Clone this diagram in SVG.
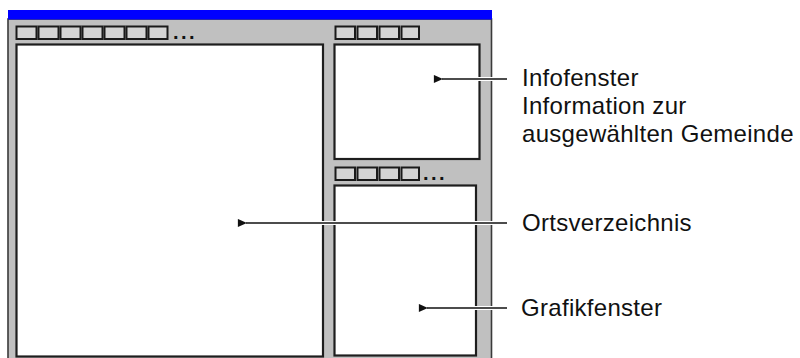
<svg xmlns="http://www.w3.org/2000/svg" width="800" height="358" viewBox="0 0 800 358">
<defs>
<style>
.pane{fill:#ffffff;stroke:#1e1e1e;stroke-width:2.2}
.tab{fill:#d4d4d4;stroke:#1a1a1a;stroke-width:2}
.lbl{font-family:"Liberation Sans",Arial,sans-serif;font-size:24px;fill:#111;letter-spacing:0.3px}
.dots{font-family:"Liberation Sans",Arial,sans-serif;font-size:20px;font-weight:bold;fill:#111;letter-spacing:2.5px}
.halo{stroke:#ffffff;stroke-width:4;fill:none}
.conn{stroke:#111;stroke-width:1.6;fill:none}
</style>
<marker id="ah" viewBox="0 0 10 10" refX="1" refY="5" markerWidth="10" markerHeight="9" orient="auto-start-reverse" markerUnits="userSpaceOnUse">
<path d="M0,5 L10,0.5 L10,9.5 Z" fill="#111"/>
</marker>
</defs>
<rect x="0" y="0" width="800" height="358" fill="#ffffff"/>
<g id="window">
<rect x="8" y="19" width="483.5" height="345" fill="#c0c0c0" stroke="#3a3a3a" stroke-width="1.6"/>
<rect x="8" y="10" width="484" height="9.5" fill="#0000ff"/>
</g>
<g id="ortsverzeichnis-pane">
<rect class="pane" x="16.5" y="44.5" width="306.5" height="312"/>
<g>
<rect class="tab" x="16.5" y="26.5" width="20" height="12.5"/>
<rect class="tab" x="38.5" y="26.5" width="20" height="12.5"/>
<rect class="tab" x="60.5" y="26.5" width="20" height="12.5"/>
<rect class="tab" x="82.5" y="26.5" width="20" height="12.5"/>
<rect class="tab" x="104.5" y="26.5" width="20" height="12.5"/>
<rect class="tab" x="126.5" y="26.5" width="20" height="12.5"/>
<rect class="tab" x="148.5" y="26.5" width="19" height="12.5"/>
</g>
<text class="dots" x="173" y="39">...</text>
</g>
<g id="infofenster-pane">
<rect class="pane" x="334.5" y="44.5" width="145" height="114.5"/>
<rect class="tab" x="335.5" y="26.5" width="19.5" height="12.5"/>
<rect class="tab" x="357.5" y="26.5" width="19.5" height="12.5"/>
<rect class="tab" x="379.5" y="26.5" width="19.5" height="12.5"/>
<rect class="tab" x="401.5" y="26.5" width="17.5" height="12.5"/>
</g>
<g id="grafikfenster-pane">
<rect class="pane" x="334.5" y="185.5" width="141.5" height="170"/>
<rect class="tab" x="335.5" y="167.5" width="19.5" height="12.5"/>
<rect class="tab" x="357.5" y="167.5" width="19.5" height="12.5"/>
<rect class="tab" x="379.5" y="167.5" width="19.5" height="12.5"/>
<rect class="tab" x="401.5" y="167.5" width="17.5" height="12.5"/>
<text class="dots" x="423" y="180">...</text>
</g>
<g id="connectors">
<line class="halo" x1="507" y1="79" x2="440" y2="79"/>
<line class="conn" x1="507" y1="79" x2="442" y2="79" marker-end="url(#ah)"/>
<line class="halo" x1="507" y1="223" x2="244" y2="223"/>
<line class="conn" x1="507" y1="223" x2="246" y2="223" marker-end="url(#ah)"/>
<line class="halo" x1="507" y1="308" x2="425" y2="308"/>
<line class="conn" x1="507" y1="308" x2="427" y2="308" marker-end="url(#ah)"/>
</g>
<g id="labels">
<text class="lbl" x="522" y="86">Infofenster</text>
<text class="lbl" x="522" y="114">Information zur</text>
<text class="lbl" x="522" y="142">ausgewählten Gemeinde</text>
<text class="lbl" x="522" y="231">Ortsverzeichnis</text>
<text class="lbl" x="521" y="316">Grafikfenster</text>
</g>
</svg>
